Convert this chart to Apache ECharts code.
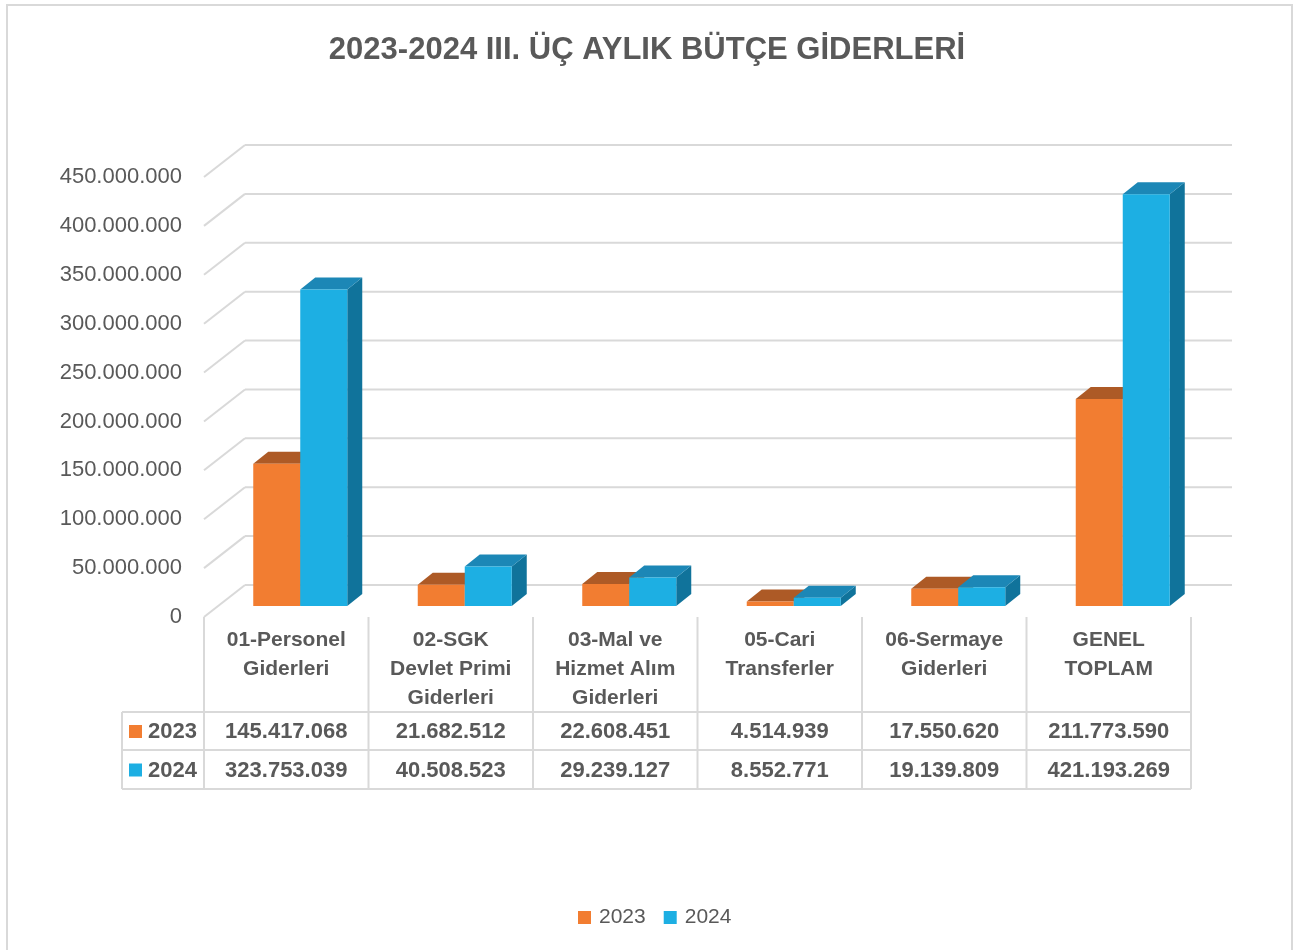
<!DOCTYPE html>
<html>
<head>
<meta charset="utf-8">
<script src="https://cdn.jsdelivr.net/npm/echarts@6/dist/echarts.min.js"></script>
<style>
  html, body { margin: 0; padding: 0; background: #fff; }
  #chart { width: 1294px; height: 950px; }
</style>
</head>
<body>
<div id="chart"></div>
<script>
// data
const categories = ['01-Personel\nGiderleri', '02-SGK\nDevlet Primi\nGiderleri', '03-Mal ve\nHizmet Alım\nGiderleri', '05-Cari\nTransferler', '06-Sermaye\nGiderleri', 'GENEL\nTOPLAM']
const years = ['2023', '2024']
const values2023 = [145417068, 21682512, 22608451, 4514939, 17550620, 211773590]
const values2024 = [323753039, 40508523, 29239127, 8552771, 19139809, 421193269]
const yTicks = [0, 50000000, 100000000, 150000000, 200000000, 250000000, 300000000, 350000000, 400000000, 450000000]

const FONT = '"Liberation Sans", Arial, sans-serif'
const TXT = '#595959'
const GRID_C = '#D9D9D9'
const colors = {
  '2023': { front: '#F27D31', top: '#AD5A26', side: '#B5602A' },
  '2024': { front: '#1DAFE3', top: '#1C87B6', side: '#10739B' }
}
// perspective offsets
const WALL_DX = 41, WALL_DY = -32
const BAR_DX = 14, BAR_DY = -11
const DEPTH_DX = 15, DEPTH_DY = -12
const BAR_W = 47

function fmt (v) {
  return String(Math.round(v)).replace(/\B(?=(\d{3})+(?!\d))/g, '.')
}

function barRenderer (year, side) {
  const c = colors[year]
  return function (params, api) {
    const i = api.value(0)
    const p = api.coord([i, api.value(1)])
    const base = api.coord([i, 0])
    const x0 = side === 0 ? p[0] + BAR_DX - BAR_W : p[0] + BAR_DX
    const x1 = x0 + BAR_W
    const top = p[1] + BAR_DY
    const bot = base[1] + BAR_DY
    return {
      type: 'group',
      children: [
        { type: 'polygon', shape: { points: [[x1, top], [x1, bot], [x1 + DEPTH_DX, bot + DEPTH_DY], [x1 + DEPTH_DX, top + DEPTH_DY]] }, style: { fill: c.side } },
        { type: 'polygon', shape: { points: [[x0, top], [x1, top], [x1 + DEPTH_DX, top + DEPTH_DY], [x0 + DEPTH_DX, top + DEPTH_DY]] }, style: { fill: c.top } },
        { type: 'rect', shape: { x: x0, y: top, width: BAR_W, height: bot - top }, style: { fill: c.front } }
      ]
    }
  }
}

function gridRenderer (params, api) {
  const cs = params.coordSys
  const y = api.coord([0, api.value(0)])[1]
  const x = cs.x
  return {
    type: 'group',
    children: [
      { type: 'line', shape: { x1: x, y1: y, x2: x + WALL_DX, y2: y + WALL_DY }, style: { stroke: GRID_C, lineWidth: 2 } },
      { type: 'line', shape: { x1: x + WALL_DX, y1: y + WALL_DY, x2: cs.x + cs.width + WALL_DX, y2: y + WALL_DY }, style: { stroke: GRID_C, lineWidth: 2 } }
    ]
  }
}

const ROW1 = 712, ROW2 = 750, ROW3 = 789, TBL_LEFT = 122
function tableRenderer (params, api) {
  const cs = params.coordSys
  const i = api.value(0)
  const cx = api.coord([i, 0])[0]
  const bw = api.size([1, 0])[0]
  const top = cs.y + cs.height
  const ch = [
    { type: 'line', shape: { x1: cx - bw / 2, y1: top, x2: cx - bw / 2, y2: ROW3 }, style: { stroke: GRID_C, lineWidth: 2 } },
    { type: 'text', x: cx, y: (ROW1 + ROW2) / 2 + 1, style: { text: fmt(values2023[i]), font: 'bold 22px ' + FONT, fill: TXT, align: 'center', verticalAlign: 'middle' } },
    { type: 'text', x: cx, y: (ROW2 + ROW3) / 2 + 1, style: { text: fmt(values2024[i]), font: 'bold 22px ' + FONT, fill: TXT, align: 'center', verticalAlign: 'middle' } }
  ]
  if (i === categories.length - 1) {
    ch.push({ type: 'line', shape: { x1: cx + bw / 2, y1: top, x2: cx + bw / 2, y2: ROW3 }, style: { stroke: GRID_C, lineWidth: 2 } })
  }
  if (i === 0) {
    const right = cs.x + cs.width
    ;[ROW1, ROW2, ROW3].forEach(function (yy) {
      ch.push({ type: 'line', shape: { x1: TBL_LEFT, y1: yy, x2: right, y2: yy }, style: { stroke: GRID_C, lineWidth: 2 } })
    })
    ch.push({ type: 'line', shape: { x1: TBL_LEFT, y1: ROW1, x2: TBL_LEFT, y2: ROW3 }, style: { stroke: GRID_C, lineWidth: 2 } })
    years.forEach(function (yr, k) {
      const yc = k === 0 ? (ROW1 + ROW2) / 2 : (ROW2 + ROW3) / 2
      ch.push({ type: 'rect', shape: { x: 129, y: yc - 6, width: 13, height: 13 }, style: { fill: colors[yr].front } })
      ch.push({ type: 'text', x: 148, y: yc + 1, style: { text: yr, font: 'bold 22px ' + FONT, fill: TXT, align: 'left', verticalAlign: 'middle' } })
    })
  }
  return { type: 'group', children: ch }
}

const myChart = echarts.init(document.getElementById('chart'))
const option = {
  backgroundColor: '#fff',
  animation: false,
  title: {
    text: '2023-2024 III. ÜÇ AYLIK BÜTÇE GİDERLERİ',
    left: 'center',
    top: 30,
    textStyle: { fontFamily: FONT, fontSize: 31, fontWeight: 'bold', color: TXT }
  },
  graphic: [
    { type: 'rect', shape: { x: 7, y: 5, width: 1285, height: 960 }, style: { fill: 'none', stroke: GRID_C, lineWidth: 2 }, silent: true }
  ],
  legend: {
    data: years,
    left: 573,
    top: 902,
    icon: 'rect',
    itemWidth: 13,
    itemHeight: 13,
    itemGap: 18,
    textStyle: { fontFamily: FONT, fontSize: 21, color: TXT, padding: [0, 0, 0, 3] }
  },
  grid: { left: 204, right: 103, top: 177, bottom: 333 },
  xAxis: {
    type: 'category',
    data: categories,
    axisLine: { show: false },
    axisTick: { show: false },
    axisLabel: {
      interval: 0,
      margin: 9,
      verticalAlign: 'top',
      lineHeight: 29,
      fontFamily: FONT,
      fontSize: 21,
      fontWeight: 'bold',
      color: TXT
    }
  },
  yAxis: {
    type: 'value',
    min: 0,
    max: 450000000,
    interval: 50000000,
    splitLine: { show: false },
    axisLine: { show: false },
    axisTick: { show: false },
    axisLabel: {
      margin: 22,
      fontFamily: FONT,
      fontSize: 22,
      color: TXT,
      formatter: fmt
    }
  },
  series: [
    {
      type: 'custom',
      name: 'grid3d',
      z: 1,
      renderItem: gridRenderer,
      data: yTicks.map(function (v) { return [v] }),
      silent: true
    },
    {
      type: 'custom',
      name: '2023',
      z: 2,
      itemStyle: { color: colors['2023'].front },
      renderItem: barRenderer('2023', 0),
      data: values2023.map(function (v, i) { return [i, v] })
    },
    {
      type: 'custom',
      name: '2024',
      z: 3,
      itemStyle: { color: colors['2024'].front },
      renderItem: barRenderer('2024', 1),
      data: values2024.map(function (v, i) { return [i, v] })
    },
    {
      type: 'custom',
      name: 'table',
      z: 1,
      renderItem: tableRenderer,
      data: categories.map(function (c, i) { return [i] }),
      silent: true
    }
  ]
}
myChart.setOption(option)
</script>
</body>
</html>
